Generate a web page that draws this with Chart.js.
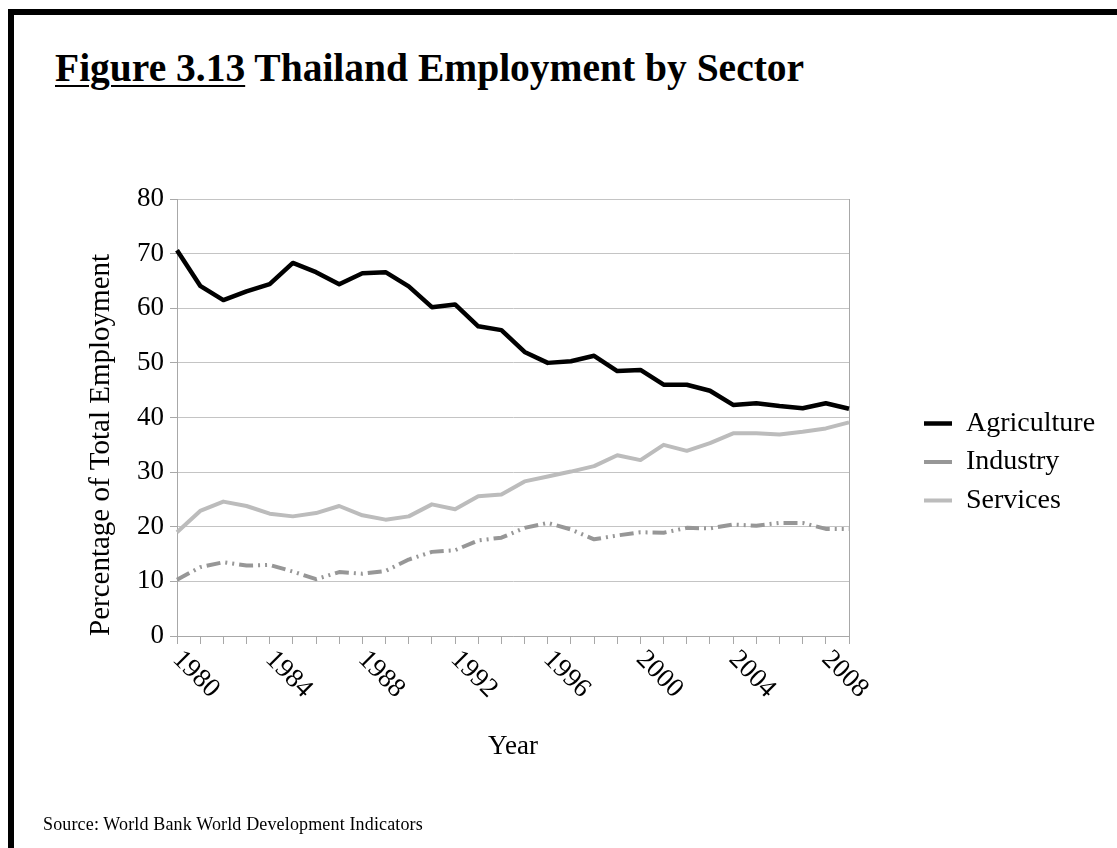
<!DOCTYPE html>
<html>
<head>
<meta charset="utf-8">
<title>Thailand Employment by Sector</title>
<script src="https://cdn.jsdelivr.net/npm/chart.js@4.4.1/dist/chart.umd.min.js"></script>
<style>
  html, body { margin: 0; padding: 0; background: #fff; }
  body {
    width: 1117px; height: 848px; position: relative; overflow: hidden;
    font-family: "Liberation Serif", "Times New Roman", serif; color: #000;
  }
  #frame {
    position: absolute; left: 8px; top: 9px; right: 0; bottom: 0;
    border-top: 6px solid #000; border-left: 6px solid #000;
    pointer-events: none;
  }
  #title {
    position: absolute; left: 55px; top: 48px;
    font-size: 39.5px; line-height: 40px; font-weight: bold; white-space: nowrap;
  }
  #title u { text-decoration-thickness: 2px; text-underline-offset: 4px; }
  #source {
    position: absolute; left: 43px; top: 815px;
    font-size: 18px; line-height: 18px; letter-spacing: 0.15px; white-space: nowrap;
  }
  #chart { position: absolute; left: 0; top: 0; }
</style>
</head>
<body>
<div id="frame"></div>
<div id="title"><u>Figure 3.13</u> Thailand Employment by Sector</div>
<canvas id="chart" width="1117" height="848"></canvas>
<div id="source">Source: World Bank World Development Indicators</div>

<script>
// share of total employment, %
const YEARS = [
  "1980", "1981", "1982", "1983", "1984", "1985", "1986", "1987", "1988", "1989",
  "1990", "1991", "1992", "1993", "1994", "1995", "1996", "1997", "1998", "1999",
  "2000", "2001", "2002", "2003", "2004", "2005", "2006", "2007", "2008", "2009",
];
const LABELED_YEARS = ["1980", "1984", "1988", "1992", "1996", "2000", "2004", "2008"];

const AGRICULTURE = [
  70.6, 64.1, 61.5, 63.1, 64.4, 68.3, 66.6, 64.4, 66.4, 66.6,
  64.0, 60.2, 60.7, 56.7, 56.0, 52.0, 50.0, 50.3, 51.3, 48.5,
  48.7, 46.0, 46.0, 44.9, 42.3, 42.6, 42.1, 41.7, 42.6, 41.6,
];
const INDUSTRY = [
  10.3, 12.6, 13.5, 12.9, 13.0, 11.8, 10.4, 11.7, 11.4, 11.9,
  14.0, 15.4, 15.7, 17.5, 18.0, 19.8, 20.7, 19.5, 17.7, 18.4,
  19.0, 18.9, 19.8, 19.7, 20.4, 20.2, 20.7, 20.7, 19.6, 19.6,
];
const SERVICES = [
  19.0, 22.9, 24.6, 23.8, 22.4, 21.9, 22.5, 23.8, 22.1, 21.3,
  21.9, 24.1, 23.2, 25.6, 25.9, 28.3, 29.2, 30.1, 31.1, 33.1,
  32.2, 35.0, 33.9, 35.3, 37.1, 37.1, 36.9, 37.4, 38.0, 39.1,
];

const Y_TICKS = { min: 0, max: 80, step: 10 };

const SERIF = '"Liberation Serif", "Times New Roman", serif';
const COLORS = {
  agriculture: "#000000",
  industry: "#979797",
  services: "#bcbcbc",
  grid: "#c4c4c4",
  axis: "#a8a8a8",
  text: "#000000",
};

Chart.defaults.font.family = SERIF;

const series = (label, data, color, extra) => Object.assign({
  label,
  data,
  borderColor: color,
  backgroundColor: color,
  borderWidth: 4,
  borderCapStyle: "butt",
  borderJoinStyle: "round",
  pointRadius: 0,
  tension: 0,
  fill: false,
}, extra || {});

new Chart(document.getElementById("chart"), {
  type: "line",
  data: {
    labels: YEARS,
    datasets: [
      series("Agriculture", AGRICULTURE, COLORS.agriculture, { borderWidth: 4.5 }),
      series("Industry", INDUSTRY, COLORS.industry, { borderDash: [14, 5, 2, 5, 2, 5] }),
      series("Services", SERVICES, COLORS.services),
    ],
  },
  options: {
    responsive: false,
    animation: false,
    layout: { padding: { left: 78, top: 199, right: 13.5, bottom: 123 } },
    plugins: {
      tooltip: { enabled: false },
      legend: {
        position: "right",
        align: "center",
        maxWidth: 190,
        labels: {
          usePointStyle: true,
          pointStyle: "line",
          pointStyleWidth: 28,
          padding: 10.5,
          color: COLORS.text,
          font: { family: SERIF, size: 28 },
        },
      },
    },
    scales: {
      x: {
        type: "category",
        afterFit: (s) => { s.height = 89; },
        grid: { drawOnChartArea: false, tickLength: 8, color: COLORS.axis },
        border: { color: COLORS.axis },
        ticks: {
          autoSkip: false,
          // labels hang down to the right of their tick
          minRotation: -45,
          maxRotation: -45,
          labelOffset: 38,
          padding: 38,
          color: COLORS.text,
          font: { family: SERIF, size: 27 },
          callback: function (v) {
            const year = this.getLabelForValue(v);
            return LABELED_YEARS.includes(year) ? year : "";
          },
        },
        title: {
          display: true,
          text: "Year",
          color: COLORS.text,
          font: { family: SERIF, size: 27 },
          padding: { top: 0, bottom: -38 },
        },
      },
      y: {
        min: Y_TICKS.min,
        max: Y_TICKS.max,
        afterFit: (s) => { s.width = 99; },
        grid: { color: COLORS.grid, tickColor: COLORS.axis, tickLength: 7 },
        border: { color: COLORS.axis },
        ticks: {
          stepSize: Y_TICKS.step,
          padding: 6,
          color: COLORS.text,
          font: { family: SERIF, size: 27 },
        },
        title: {
          display: true,
          text: "Percentage of Total Employment",
          align: "start",
          color: COLORS.text,
          font: { family: SERIF, size: 29 },
          padding: { top: 5.6, bottom: 0 },
        },
      },
      // right-hand edge of the plot box
      y2: {
        position: "right",
        min: Y_TICKS.min,
        max: Y_TICKS.max,
        afterFit: (s) => { s.width = 64.5; },
        grid: { drawOnChartArea: false, drawTicks: false },
        border: { color: COLORS.axis },
        ticks: { display: false, stepSize: Y_TICKS.step },
      },
    },
  },
});
</script>
</body>
</html>
